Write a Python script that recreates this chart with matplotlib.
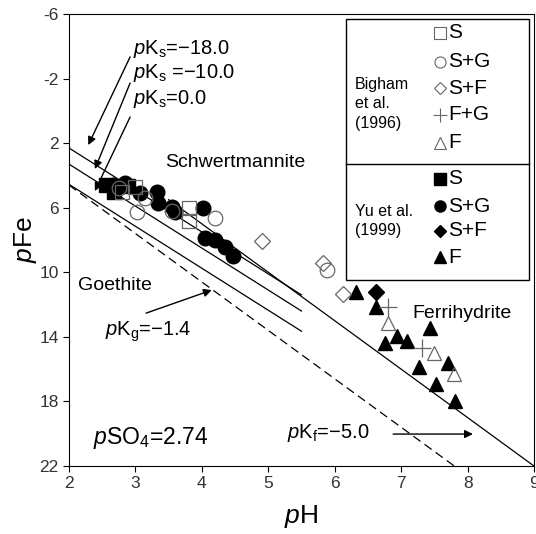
import matplotlib
matplotlib.use("Agg")
import matplotlib.pyplot as plt
from matplotlib.patches import Rectangle

plt.rcParams['font.family'] = ['Liberation Sans', 'DejaVu Sans']
plt.rcParams['mathtext.fontset'] = 'custom'
plt.rcParams['mathtext.rm'] = 'Liberation Sans'
plt.rcParams['mathtext.it'] = 'Liberation Sans:italic'
plt.rcParams['axes.unicode_minus'] = False

# --- Data (pH, pFe) ---
# Bigham et al. (1996), open symbols
big_s_ph = [2.8, 3.0, 3.8, 3.8]
big_s_pfe = [5.0, 4.7, 6.0, 6.8]
big_sg_ph = [2.75, 3.02, 3.15, 3.55, 4.2, 5.88]
big_sg_pfe = [4.8, 6.27, 5.4, 6.2, 6.64, 9.86]
big_sf_ph = [4.9, 5.82, 6.12]
big_sf_pfe = [8.06, 9.4, 11.35]
big_fg_ph = [6.8, 7.31]
big_fg_pfe = [12.15, 14.7]
big_f_ph = [6.8, 7.49, 7.79]
big_f_pfe = [13.15, 15.0, 16.3]

# Yu et al. (1999), filled symbols
yu_s_ph = [2.56, 2.68, 2.89]
yu_s_pfe = [4.6, 5.03, 4.66]
yu_sg_ph = [2.66, 2.84, 3.07, 3.32, 3.34, 3.55, 3.6, 4.02, 4.05, 4.2, 4.35, 4.47]
yu_sg_pfe = [4.6, 4.47, 5.09, 5.03, 5.71, 5.96, 6.27, 6.02, 7.88, 8.0, 8.44, 9.0]
yu_sf_ph = [6.62]
yu_sf_pfe = [11.22]
yu_f_ph = [6.32, 6.62, 7.43, 6.94, 7.09, 6.76, 7.71, 7.27, 7.52, 7.81]
yu_f_pfe = [11.22, 12.15, 13.45, 13.95, 14.26, 14.38, 15.62, 15.87, 16.92, 17.98]

# Stability lines
sch_ph = [2.0, 5.5]
sch_pks = [-18.0, -10.0, 0.0]
sch_pfe = [[2.3, 11.4], [3.3, 12.4], [4.55, 13.65]]
ferri_ph = [3.5, 9.0]
ferri_pfe = [5.5, 22.0]
goe_ph = [2.0, 7.8]
goe_pfe = [4.6, 22.0]

x_ticks = [2, 3, 4, 5, 6, 7, 8, 9]
y_ticks = [-6, -2, 2, 6, 10, 14, 18, 22]

MINUS = '\u2212'

# --- Figure ---
fig = plt.figure(figsize=(5.36, 5.34), dpi=100)
ax = fig.add_axes([0.1287, 0.1273, 0.8676, 0.8465])

for pfe in sch_pfe:
    ax.plot(sch_ph, pfe, color='k', lw=0.9)
ax.plot(ferri_ph, ferri_pfe, color='k', lw=0.9)
ax.plot(goe_ph, goe_pfe, color='k', lw=0.9, dashes=(7, 4))

# filled symbols first, open ones on top
ax.plot(yu_s_ph, yu_s_pfe, 's', ms=10, color='k', mec='k')
ax.plot(yu_sg_ph, yu_sg_pfe, 'o', ms=10.5, color='k', mec='k')
ax.plot(yu_sf_ph, yu_sf_pfe, 'D', ms=8, color='k', mec='k')
ax.plot(yu_f_ph, yu_f_pfe, '^', ms=10.5, color='k', mec='k')

open_kw = dict(mfc='none', mec='#666666', mew=0.9, ls='none')
ax.plot(big_s_ph, big_s_pfe, 's', ms=10, **open_kw)
ax.plot(big_sg_ph, big_sg_pfe, 'o', ms=10.5, **open_kw)
ax.plot(big_sf_ph, big_sf_pfe, 'D', ms=8, **open_kw)
ax.plot(big_fg_ph, big_fg_pfe, '+', ms=13, **open_kw)
ax.plot(big_f_ph, big_f_pfe, '^', ms=10.5, **open_kw)

# --- Annotations ---
pk = r'$\mathit{p}\mathrm{K}_\mathrm{s}$'
ax.text(2.96, -3.83, pk + '=' + MINUS + '18.0', fontsize=14.5, va='center')
ax.text(2.96, -2.34, pk + ' =' + MINUS + '10.0', fontsize=14.5, va='center')
ax.text(2.96, -0.73, pk + '=0.0', fontsize=14.5, va='center')

arrow_kw = dict(arrowstyle='-|>', color='k', lw=1.0, mutation_scale=12,
                shrinkA=0, shrinkB=0)
ax.annotate('', xy=(2.29, 2.12), xytext=(2.92, -3.34), arrowprops=arrow_kw)
ax.annotate('', xy=(2.39, 3.6), xytext=(2.92, -1.72), arrowprops=arrow_kw)
ax.annotate('', xy=(2.39, 4.97), xytext=(2.92, 0.38), arrowprops=arrow_kw)

ax.text(4.5, 3.17, 'Schwertmannite', fontsize=14, ha='center', va='center')
ax.text(2.69, 10.79, 'Goethite', fontsize=14, ha='center', va='center')
ax.text(7.92, 12.53, 'Ferrihydrite', fontsize=14, ha='center', va='center')

ax.text(2.54, 13.7, r'$\mathit{p}\mathrm{K}_\mathrm{g}$=' + MINUS + '1.4',
        fontsize=14.5, va='center')
ax.annotate('', xy=(4.15, 11.1), xytext=(3.16, 12.53), arrowprops=arrow_kw)
ax.text(5.28, 19.96, r'$\mathit{p}\mathrm{K}_\mathrm{f}$=' + MINUS + '5.0',
        fontsize=14.5, va='center')
ax.annotate('', xy=(8.08, 20.02), xytext=(6.88, 20.02), arrowprops=arrow_kw)

ax.text(2.36, 20.27, r'$\mathit{p}\mathrm{SO}_4$=2.74', fontsize=16.5, va='center')

# --- Legend box (drawn by hand) ---
ax.add_patch(Rectangle((0.596, 0.4115), 0.393, 0.5775, transform=ax.transAxes,
                       fill=False, ec='k', lw=1.0, zorder=5))
ax.plot([0.596, 0.989], [0.668, 0.668], transform=ax.transAxes, color='k', lw=1.0)

leg_rows = [
    ('s', 'S', 0.958, False), ('o', 'S+G', 0.894, False), ('D', 'S+F', 0.836, False),
    ('+', 'F+G', 0.777, False), ('^', 'F', 0.715, False),
    ('s', 'S', 0.635, True), ('o', 'S+G', 0.575, True), ('D', 'S+F', 0.520, True),
    ('^', 'F', 0.462, True),
]
for marker, label, y, filled in leg_rows:
    ms = 6 if marker == 'D' else 8
    if filled:
        ax.plot([0.798], [y], marker, ms=ms, color='k', transform=ax.transAxes, clip_on=False)
    else:
        ax.plot([0.798], [y], marker, ms=ms + (2 if marker == '+' else 0), mfc='none',
                mec='#666666', mew=0.8, transform=ax.transAxes, clip_on=False)
    ax.text(0.816, y, label, fontsize=15, va='center', transform=ax.transAxes)

ax.text(0.615, 0.801, 'Bigham\net al.\n(1996)', fontsize=11.5, va='center',
        linespacing=1.4, transform=ax.transAxes)
ax.text(0.615, 0.542, 'Yu et al.\n(1999)', fontsize=11.5, va='center',
        linespacing=1.4, transform=ax.transAxes)

# --- Axes ---
ax.set_xlim(2, 9)
ax.set_ylim(22, -6)
ax.set_xticks(x_ticks)
ax.set_yticks(y_ticks)
ax.tick_params(direction='out', length=4, labelsize=12.5, labelcolor='#333333')
ax.set_xlabel(r'$\mathit{p}$H', fontsize=19, labelpad=8)
ax.set_ylabel(r'$\mathit{p}$Fe', fontsize=19, labelpad=0)

fig.savefig('out.png', dpi=100)
